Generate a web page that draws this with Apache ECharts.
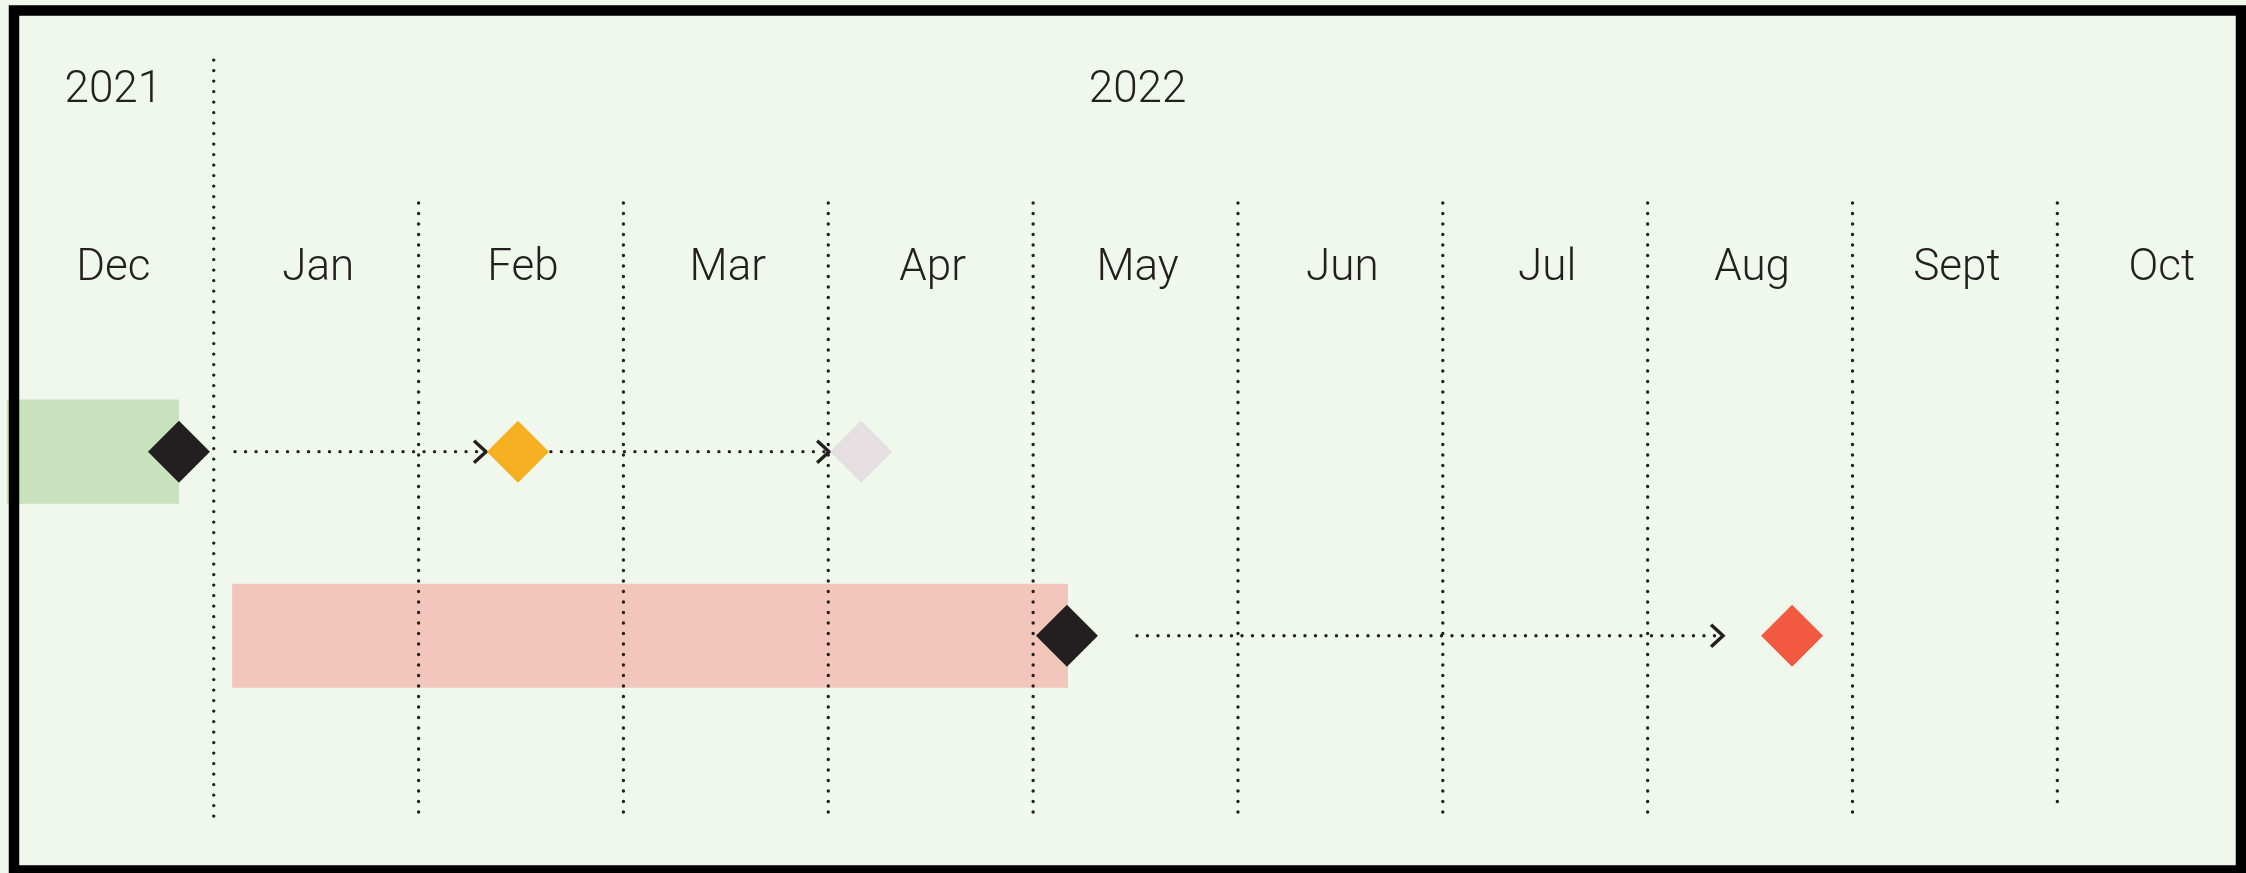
<!DOCTYPE html>
<html>
<head>
<meta charset="utf-8">
<script src="https://cdn.jsdelivr.net/npm/echarts@6/dist/echarts.min.js"></script>
<style>
html, body { margin: 0; padding: 0; background: #eff7ec; }
#chart { width: 2246px; height: 873px; }
</style>
</head>
<body>
<div id="chart"></div>
<script>
// months counted from the start of Dec 2021 (Dec = 0 .. Oct = 10)
var months = ['Dec', 'Jan', 'Feb', 'Mar', 'Apr', 'May', 'Jun', 'Jul', 'Aug', 'Sept', 'Oct'];
var years = ['2021', '2022'];
var yearStart = [0, 1];
var yearEnd = [1, 10];

// [start, end, lane]
var bars = [[-0.01, 0.83, 1], [1.09, 5.17, 2]];
// [start, tip, lane]
var arrows = [[1.104, 2.334, 1], [2.646, 4.009, 1], [5.507, 8.373, 2]];
// [month, lane]
var milestones = [[0.83, 1], [2.485, 1], [4.16, 1], [5.165, 2], [8.705, 2]];

var barColors = ['#c7e2bd', '#f2c6ba'];
var milestoneColors = ['#231f20', '#f5af20', '#e5dfe1', '#231f20', '#f15a40'];
var ink = '#231f20';
var font = 'Roboto';

var dividers = months.slice(1).map(function (m, i) { return [i + 1]; });
var monthLabels = months.map(function (m, i) { return [i + 0.5, 0]; });
var yearLabels = years.map(function (y, i) { return [(yearStart[i] + yearEnd[i]) / 2, -1]; });

var dotted = { stroke: ink, lineWidth: 3.4, lineDash: [0, 10.5], lineCap: 'round' };

function textSeries(data, texts, dy) {
    return {
        type: 'custom',
        z: 3,
        encode: { x: 0, y: 1 },
        data: data,
        renderItem: function (params, api) {
            var p = api.coord([api.value(0), api.value(1)]);
            return {
                type: 'text',
                x: p[0] + 2,
                y: p[1] + dy,
                style: {
                    text: texts[params.dataIndex],
                    fontFamily: font,
                    fontWeight: 300,
                    fontSize: 44,
                    fill: ink,
                    align: 'center',
                    verticalAlign: 'middle'
                }
            };
        }
    };
}

var myChart = echarts.init(document.getElementById('chart'));
myChart.setOption({
    backgroundColor: '#f0f7ed',
    animation: false,
    grid: { left: 8.9, right: 0, top: 203, bottom: 53 },
    // one month = 204.84 px
    xAxis: { type: 'value', min: 0, max: 10.921, show: false },
    yAxis: { type: 'value', inverse: true, min: -0.35, max: 3, show: false },
    series: [
        {
            type: 'custom',
            z: 1,
            encode: { x: [0, 1], y: 2 },
            data: bars,
            renderItem: function (params, api) {
                var a = api.coord([api.value(0), api.value(2)]);
                var b = api.coord([api.value(1), api.value(2)]);
                var h = api.size([0, 0.565])[1];
                return {
                    type: 'rect',
                    shape: { x: a[0], y: a[1] - h / 2, width: b[0] - a[0], height: h },
                    style: { fill: barColors[params.dataIndex] }
                };
            }
        },
        {
            type: 'custom',
            z: 2,
            encode: { x: 0 },
            data: dividers,
            renderItem: function (params, api) {
                var x = api.value(0);
                var top = x === 1 ? -1.126 : -0.35;
                var bottom = x === 10 ? 2.95 : 3;
                var a = api.coord([x, top]);
                var b = api.coord([x, bottom]);
                return {
                    type: 'line',
                    shape: { x1: a[0], y1: a[1], x2: b[0], y2: b[1] },
                    style: dotted
                };
            }
        },
        {
            type: 'custom',
            z: 3,
            encode: { x: [0, 1], y: 2 },
            data: arrows,
            renderItem: function (params, api) {
                var a = api.coord([api.value(0), api.value(2)]);
                var b = api.coord([api.value(1), api.value(2)]);
                return {
                    type: 'group',
                    children: [
                        {
                            type: 'line',
                            shape: { x1: a[0], y1: a[1], x2: b[0] - 3, y2: b[1] },
                            style: dotted
                        },
                        {
                            type: 'polyline',
                            shape: { points: [[b[0] - 13, b[1] - 11], [b[0] - 1, b[1]], [b[0] - 13, b[1] + 11]] },
                            style: { stroke: ink, lineWidth: 3.4, fill: null }
                        }
                    ]
                };
            }
        },
        textSeries(monthLabels, months, 2),
        textSeries(yearLabels, years, 8),
        {
            type: 'scatter',
            z: 4,
            symbol: 'diamond',
            symbolSize: 62,
            data: milestones.map(function (m, i) {
                return { value: m, itemStyle: { color: milestoneColors[i], opacity: 1 } };
            })
        }
    ],
    graphic: [
        {
            type: 'rect',
            z: 100,
            shape: { x: 14, y: 10.5, width: 2227, height: 860 },
            style: { fill: null, stroke: '#000', lineWidth: 10.5 }
        }
    ]
});
</script>
</body>
</html>
